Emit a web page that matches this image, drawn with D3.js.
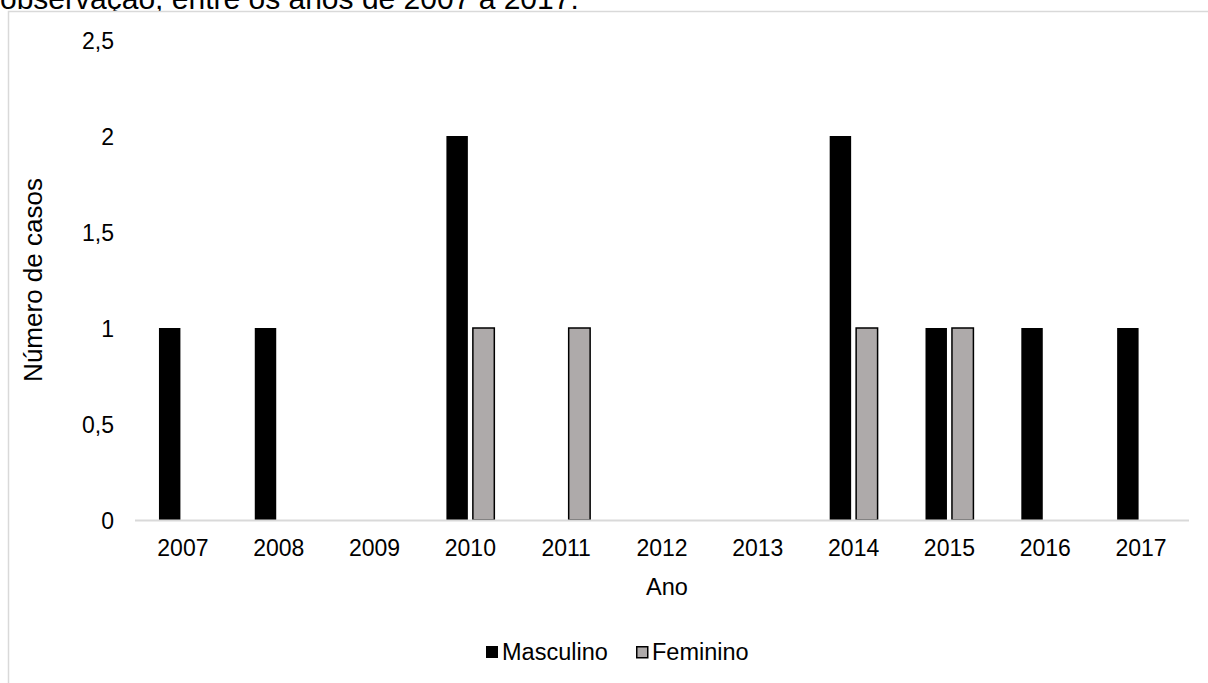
<!DOCTYPE html>
<html>
<head>
<meta charset="utf-8">
<script src="https://cdn.jsdelivr.net/npm/d3@7"></script>
<style>
  html, body { margin: 0; padding: 0; background: #fff; }
  svg { display: block; font-family: "Liberation Sans", Arial, sans-serif; }
</style>
</head>
<body>
<svg id="chart" width="1208" height="683"></svg>
<script>
// Casos por ano e sexo
const years = ["2007", "2008", "2009", "2010", "2011", "2012", "2013", "2014", "2015", "2016", "2017"];
const seriesNames = ["Masculino", "Feminino"];
const masculino = [1, 1, 0, 2, 0, 0, 0, 2, 1, 1, 1];
const feminino = [0, 0, 0, 1, 1, 0, 0, 1, 1, 0, 0];
const yTicks = [0, 0.5, 1, 1.5, 2, 2.5];
const colors = { Masculino: "#000000", Feminino: "#AEAAAA" };

const rows = years.map((y, i) => ({ year: y, Masculino: masculino[i], Feminino: feminino[i] }));

const svg = d3.select("#chart");
const fmt = v => String(v).replace(".", ",");

// Caption line above the chart area
svg.append("text")
  .attr("x", 0).attr("y", 9)
  .attr("font-size", 30).attr("fill", "#000")
  .text("observação, entre os anos de 2007 a 2017.");

// Chart area border
svg.append("rect")
  .attr("x", 8.5).attr("y", 11.5)
  .attr("width", 1220).attr("height", 700)
  .attr("fill", "#fff").attr("stroke", "#d9d9d9").attr("stroke-width", 1.5);

const plot = { left: 135, right: 1189, top: 40, bottom: 520 };

const x = d3.scaleBand().domain(years).range([plot.left, plot.right]).paddingInner(0.5).paddingOuter(0.25);
const xs = d3.scaleBand().domain(seriesNames).range([0, x.bandwidth()]).paddingInner(0.189);
const y = d3.scaleLinear().domain([0, 2.5]).range([plot.bottom, plot.top]);

// Y tick labels
svg.append("g").selectAll("text").data(yTicks).join("text")
  .attr("x", 114).attr("y", d => y(d) + 8.5)
  .attr("text-anchor", "end").attr("font-size", 23).attr("fill", "#000")
  .text(fmt);

// Bars
const groups = svg.append("g").selectAll("g").data(rows).join("g")
  .attr("transform", d => `translate(${x(d.year)},0)`);
groups.selectAll("rect")
  .data(d => seriesNames.map(s => ({ s, v: d[s] })).filter(e => e.v > 0))
  .join("rect")
  .attr("x", e => xs(e.s))
  .attr("y", e => y(e.v))
  .attr("width", xs.bandwidth())
  .attr("height", e => y(0) - y(e.v))
  .attr("fill", e => colors[e.s])
  .attr("stroke", e => e.s === "Feminino" ? "#000" : "none")
  .attr("stroke-width", 1.5);

// Baseline (x axis)
svg.append("line")
  .attr("x1", plot.left).attr("x2", plot.right)
  .attr("y1", plot.bottom + 0.5).attr("y2", plot.bottom + 0.5)
  .attr("stroke", "#d9d9d9").attr("stroke-width", 2);

// X tick labels
svg.append("g").selectAll("text").data(years).join("text")
  .attr("x", d => x(d) + x.bandwidth() / 2)
  .attr("y", 556)
  .attr("text-anchor", "middle").attr("font-size", 23).attr("fill", "#000")
  .text(d => d);

// Axis titles
svg.append("text")
  .attr("x", 667).attr("y", 595)
  .attr("text-anchor", "middle").attr("font-size", 23.5).attr("fill", "#000")
  .text("Ano");
svg.append("text")
  .attr("transform", "translate(42,280) rotate(-90)")
  .attr("text-anchor", "middle").attr("font-size", 26).attr("fill", "#000")
  .text("Número de casos");

// Legend
const legendItems = [
  { name: "Masculino", x: 486 },
  { name: "Feminino", x: 636 }
];
const lg = svg.append("g").selectAll("g").data(legendItems).join("g")
  .attr("transform", d => `translate(${d.x},646)`);
lg.append("rect")
  .attr("x", d => d.name === "Feminino" ? 0.75 : 0)
  .attr("y", d => d.name === "Feminino" ? 0.75 : 0)
  .attr("width", d => d.name === "Feminino" ? 11 : 12)
  .attr("height", d => d.name === "Feminino" ? 11 : 12)
  .attr("fill", d => colors[d.name])
  .attr("stroke", d => d.name === "Feminino" ? "#000" : "none")
  .attr("stroke-width", 1.5);
lg.append("text")
  .attr("x", 16).attr("y", 14)
  .attr("font-size", 23.5).attr("fill", "#000")
  .text(d => d.name);
</script>
</body>
</html>
